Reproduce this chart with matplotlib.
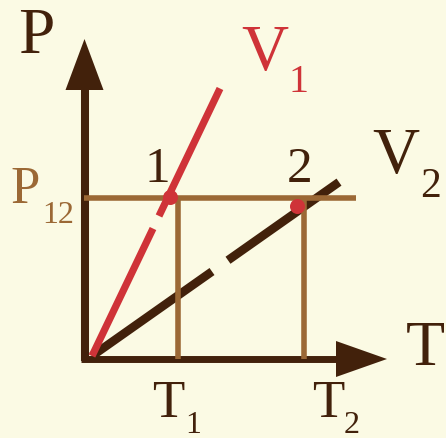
import matplotlib
matplotlib.use("Agg")
import matplotlib.pyplot as plt
from matplotlib.patches import Polygon

# ---- data (arbitrary units, origin at T=0, P=0) ----
T1 = 86
T2 = 212
P12 = 158
v1_slope = 2.09          # P/T for isochore V1
v2_slope = 0.704         # P/T for isochore V2
v1_T_segments = [(0, 61), (67, 128)]     # V1 drawn with one gap
v2_T_segments = [(0, 120), (136, 247)]   # V2 drawn with one gap
point_T = [78, 205]
point_P = [159, 150]
point_labels = ["1", "2"]
p12_T_range = (-8, 264)

BG = "#FBFAE4"
DARK = "#42210B"
RED = "#CF3338"
BROWN = "#9B6835"

fig = plt.figure(figsize=(4.46, 4.39), dpi=100)
fig.patch.set_facecolor(BG)
ax = fig.add_axes([0, 0, 1, 1])
ax.set_facecolor(BG)
ax.set_xlim(-92, 354)
ax.set_ylim(-82, 357)
ax.axis("off")

serif = ["Liberation Serif", "DejaVu Serif"]

# axes with arrows
ax.plot([-7.5, -7.5], [-5, 267], color=DARK, lw=5.8, solid_capstyle="butt", zorder=3)
ax.add_patch(Polygon([[-26.5, 266], [11.5, 266], [-7.5, 317]], closed=True,
                     color=DARK, lw=0, zorder=3))
ax.plot([-11, 246], [-3, -3], color=DARK, lw=5.0, solid_capstyle="butt", zorder=3)
ax.add_patch(Polygon([[244, 15], [244, -21], [295, -3]], closed=True,
                     color=DARK, lw=0, zorder=3))

# V2 isochore (behind the guide lines)
for a, b in v2_T_segments:
    ax.plot([a, b], [a * v2_slope, b * v2_slope], color=DARK, lw=6.2,
            solid_capstyle="butt", zorder=2)

# guide lines
ax.plot(p12_T_range, [P12, P12], color=BROWN, lw=4.0, solid_capstyle="butt", zorder=4)
ax.plot([T1, T1], [-3, P12], color=BROWN, lw=4.0, solid_capstyle="butt", zorder=4)
ax.plot([T2, T2], [-3, P12], color=BROWN, lw=4.0, solid_capstyle="butt", zorder=4)

# V1 isochore
for a, b in v1_T_segments:
    ax.plot([a, b], [a * v1_slope, b * v1_slope], color=RED, lw=5.2,
            solid_capstyle="butt", zorder=5)

# state points
ax.plot(point_T, point_P, "o", color=RED, ms=10.8, mec="none", zorder=6)

def px(x, y):
    return x - 92, 357 - y

def label(txt, x, y, size, color):
    ax.text(*px(x, y), txt, fontsize=size, color=color, family=serif,
            ha="center", va="baseline", zorder=7)

# axis labels
label("P", 36, 53, 47, DARK)
label("T", 425, 365, 46, DARK)
# isochore labels
label("V", 265, 70, 47, RED)
label("1", 299, 92, 29, RED)
label("V", 396, 173, 47, DARK)
label("2", 430, 197, 30, DARK)
# P12
label("P", 25, 203, 38, BROWN)
label("12", 58, 223, 23, BROWN)
# point labels
for t, p, s in zip([157, 300], [182, 182], point_labels):
    label(s, t, p, 37, DARK)
# T1, T2
label("T", 168, 417, 38, DARK)
label("1", 193, 433, 23, DARK)
label("T", 328, 417, 38, DARK)
label("2", 352, 433, 23, DARK)

fig.savefig("out.png", dpi=100, facecolor=BG)
